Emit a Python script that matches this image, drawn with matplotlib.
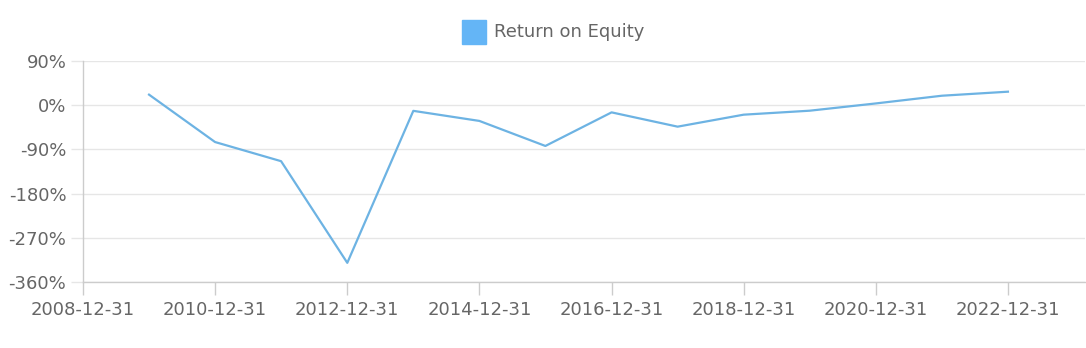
import pandas as pd
import matplotlib
matplotlib.use("Agg")
import matplotlib.pyplot as plt
import matplotlib.dates as mdates
from matplotlib.patches import Rectangle

# Veriler
dates = ["2009-12-31", "2010-12-31", "2011-12-31", "2012-12-31", "2013-12-31",
         "2014-12-31", "2015-12-31", "2016-12-31", "2017-12-31", "2018-12-31",
         "2019-12-31", "2020-12-31", "2021-12-31", "2022-12-31"]
roe = [21.5, -75, -114, -321, -11.5, -32, -83, -14.6, -43.7, -19.3, -11.2, 3.6, 19.3, 27.5]
tick_dates = ["2008-12-31", "2010-12-31", "2012-12-31", "2014-12-31",
              "2016-12-31", "2018-12-31", "2020-12-31", "2022-12-31"]
y_ticks = [90, 0, -90, -180, -270, -360]
series_name = "Return on Equity"

x = pd.to_datetime(dates)
gray = "#666666"
grid_c = "#e6e6e6"
axis_c = "#cccccc"

fig = plt.figure(figsize=(10.86, 3.48), dpi=100)
ax = fig.add_axes([83 / 1086, 66 / 348, 1002 / 1086, 221 / 348])

ax.plot(x, roe, color="#6db3e3", linewidth=1.6, solid_joinstyle="round")

ax.set_ylim(-360, 90)
ax.set_yticks(y_ticks)
ax.set_yticklabels([f"{v}%" for v in y_ticks])
ax.set_xlim(pd.Timestamp("2008-12-31"), pd.Timestamp("2024-03-01"))
ax.set_xticks(pd.to_datetime(tick_dates))
ax.xaxis.set_major_formatter(mdates.DateFormatter("%Y-%m-%d"))

ax.grid(axis="y", color=grid_c, linewidth=1)
ax.set_axisbelow(True)
for s in ["top", "right"]:
    ax.spines[s].set_visible(False)
for s in ["left", "bottom"]:
    ax.spines[s].set_color(axis_c)
    ax.spines[s].set_linewidth(1)

ax.tick_params(axis="x", colors=axis_c, length=9, width=1, labelcolor=gray,
               labelsize=13, pad=5)
ax.tick_params(axis="y", colors=grid_c, length=9, width=1, labelcolor=gray,
               labelsize=13, pad=3)

# Legend (ortalanmış kare + metin)
fig.patches.append(Rectangle((462 / 1086, 1 - 44 / 348), 24 / 1086, 24 / 348,
                             transform=fig.transFigure, color="#64b5f6"))
fig.text(494 / 1086, 1 - 32 / 348, series_name, color=gray, fontsize=13,
         va="center", ha="left")

plt.savefig("out.png", dpi=100)
